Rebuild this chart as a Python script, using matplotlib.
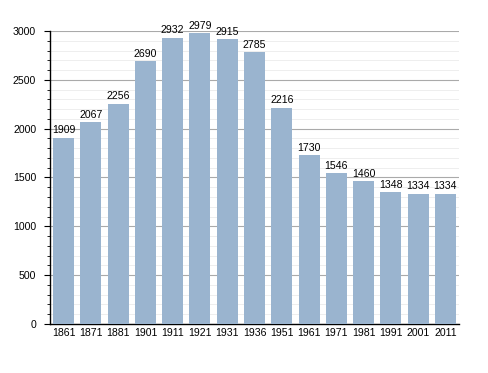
import matplotlib
matplotlib.use("Agg")
import matplotlib.pyplot as plt
from matplotlib.ticker import MultipleLocator

plt.rcParams['font.family'] = ['Liberation Sans', 'DejaVu Sans']

years = ["1861", "1871", "1881", "1901", "1911", "1921", "1931", "1936",
         "1951", "1961", "1971", "1981", "1991", "2001", "2011"]
population = [1909, 2067, 2256, 2690, 2932, 2979, 2915, 2785,
              2216, 1730, 1546, 1460, 1348, 1334, 1334]

fig = plt.figure(figsize=(4.88, 3.73), dpi=100)
ax = fig.add_axes([0.1025, 0.1314, 0.838, 0.7855])
x = range(len(years))
ax.bar(x, population, width=0.77, color="#9ab4cf", zorder=3)
for i, v in zip(x, population):
    ax.text(i, v + 45, str(v), ha="center", va="baseline", fontsize=7.6, zorder=4)

ax.set_xlim(-0.5, len(years) - 0.5)
ax.set_ylim(0, 3000)
ax.set_xticks(list(x))
ax.set_xticklabels(years, fontsize=7.6)
ax.yaxis.set_major_locator(MultipleLocator(500))
ax.yaxis.set_minor_locator(MultipleLocator(100))
ax.tick_params(axis="y", labelsize=7.6, length=4, direction="out", pad=6)
ax.tick_params(axis="y", which="minor", length=2, direction="out")
ax.tick_params(axis="x", length=0, pad=3)
ax.grid(axis="y", which="major", color="#aaaaaa", linewidth=0.8, zorder=1)
ax.grid(axis="y", which="minor", color="#ebebeb", linewidth=0.6, zorder=1)
for s in ["top", "right"]:
    ax.spines[s].set_visible(False)
ax.spines["left"].set_linewidth(1.0)
ax.spines["bottom"].set_linewidth(1.0)

fig.savefig("out.png", dpi=100)
